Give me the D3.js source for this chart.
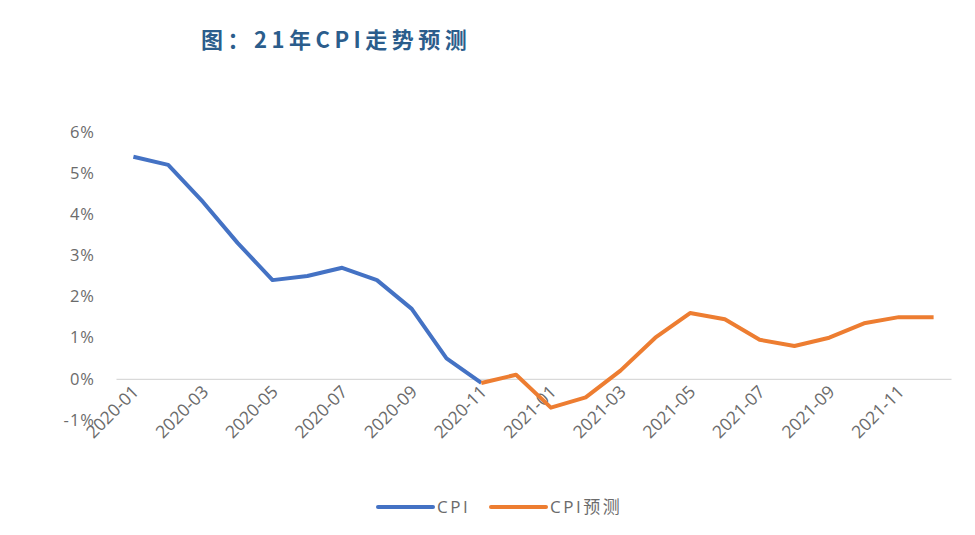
<!DOCTYPE html>
<html>
<head>
<meta charset="utf-8">
<script src="https://cdn.jsdelivr.net/npm/d3@7"></script>
<style>
  body { margin: 0; background: #fff; }
  svg text { font-family: "Open Sans", "Noto Sans CJK SC", sans-serif; }
</style>
</head>
<body>
<div id="chart"></div>
<script>
// months on the category axis
var months = ["2020-01","2020-02","2020-03","2020-04","2020-05","2020-06",
              "2020-07","2020-08","2020-09","2020-10","2020-11","2020-12",
              "2021-01","2021-02","2021-03","2021-04","2021-05","2021-06",
              "2021-07","2021-08","2021-09","2021-10","2021-11","2021-12"];
// actual CPI (%), Jan - Nov 2020
var cpiActual = [5.4, 5.2, 4.3, 3.3, 2.4, 2.5, 2.7, 2.4, 1.7, 0.5, -0.1];
// forecast CPI (%), Nov 2020 - Dec 2021
var cpiForecast = [-0.1, 0.1, -0.7, -0.45, 0.2, 1.0, 1.6, 1.45, 0.95, 0.8, 1.0, 1.35, 1.5, 1.5];
var yTicks = [-1, 0, 1, 2, 3, 4, 5, 6];
var xTickLabels = ["2020-01","2020-03","2020-05","2020-07","2020-09","2020-11",
                   "2021-01","2021-03","2021-05","2021-07","2021-09","2021-11"];

var width = 975, height = 535;
var svg = d3.select('#chart').append('svg')
    .attr('width', width)
    .attr('height', height);

var x = d3.scalePoint().domain(months).range([116, 951]).padding(0.5);
var y = d3.scaleLinear().domain([-1, 6]).range([420, 132]);

// title
svg.append('text')
    .attr('x', 201).attr('y', 48)
    .attr('font-size', 22).attr('font-weight', 'bold')
    .attr('letter-spacing', 4.5)
    .attr('fill', '#2b5d8c')
    .style('font-family', '"Noto Sans CJK SC", sans-serif')
    .text('图：21年CPI走势预测');

// y axis labels only
var yAxis = d3.axisLeft(y).tickValues(yTicks).tickSize(0).tickPadding(0)
    .tickFormat(function (d) { return d + '%'; });
var gy = svg.append('g').attr('transform', 'translate(95,0)').call(yAxis);
gy.select('.domain').remove();
gy.selectAll('text').attr('font-size', 16.5).attr('fill', '#6b6b6b')
    .attr('letter-spacing', 1)
    .style('font-family', '"Open Sans", sans-serif');

// x axis at 0%
var xAxis = d3.axisBottom(x).tickValues(xTickLabels).tickSize(0).tickPadding(0);
var gx = svg.append('g').attr('transform', 'translate(0,' + y(0) + ')').call(xAxis);
gx.select('.domain').attr('stroke', '#d9d9d9').attr('stroke-width', 1.2);
gx.selectAll('text')
    .attr('font-size', 17.5).attr('fill', '#6b6b6b')
    .style('font-family', '"Open Sans", sans-serif')
    .attr('text-anchor', 'end')
    .attr('dy', null)
    .attr('transform', 'translate(6,14) rotate(-45)');

var line = d3.line()
    .x(function (d) { return x(d.m); })
    .y(function (d) { return y(d.v); });

var actualData = cpiActual.map(function (v, i) { return {m: months[i], v: v}; });
var forecastData = cpiForecast.map(function (v, i) { return {m: months[i + 10], v: v}; });

svg.append('path').datum(actualData)
    .attr('d', line).attr('fill', 'none')
    .attr('stroke', '#4472c4').attr('stroke-width', 4)
    .attr('stroke-linejoin', 'round');

svg.append('path').datum(forecastData)
    .attr('d', line).attr('fill', 'none')
    .attr('stroke', '#ed7d31').attr('stroke-width', 4)
    .attr('stroke-linejoin', 'round');

// legend
var legend = [
    {name: 'CPI', color: '#4472c4', x: 378},
    {name: 'CPI预测', color: '#ed7d31', x: 491}
];
var lg = svg.selectAll('.legend').data(legend).enter().append('g')
    .attr('transform', function (d) { return 'translate(' + d.x + ',507)'; });
lg.append('line')
    .attr('x1', 0).attr('x2', 55).attr('y1', 0).attr('y2', 0)
    .attr('stroke', function (d) { return d.color; })
    .attr('stroke-width', 4).attr('stroke-linecap', 'round');
lg.append('text')
    .attr('x', 59).attr('y', 6)
    .attr('font-size', 17).attr('fill', '#6b6b6b')
    .attr('letter-spacing', 2.5)
    .style('font-family', '"Open Sans", "Noto Sans CJK SC", sans-serif')
    .text(function (d) { return d.name; });
</script>
</body>
</html>
